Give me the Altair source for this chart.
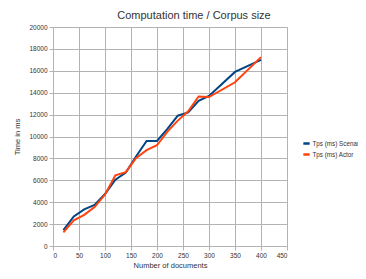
import altair as alt
import pandas as pd

docs = [20, 40, 60, 80, 100, 120, 140, 160, 180, 200, 220, 240, 260, 280, 300, 350, 400]
scenar = [1450, 2700, 3350, 3750, 4750, 6050, 6700, 8200, 9600, 9600, 10700, 11900, 12200, 13250, 13700, 15900, 17000]
actor = [1250, 2350, 2850, 3550, 4700, 6450, 6750, 8050, 8750, 9200, 10450, 11450, 12300, 13650, 13600, 14950, 17250]
series_names = ["Tps (ms) Scenar", "Tps (ms) Actor"]
colors = ["#004586", "#ff420e"]
x_ticks = list(range(0, 451, 50))
y_ticks = list(range(0, 20001, 2000))

rows = []
for name, vals in zip(series_names, [scenar, actor]):
    for d, v in zip(docs, vals):
        rows.append({"docs": d, "time": v, "series": name})
df = pd.DataFrame(rows)

FONT = "Liberation Sans"
GRID = "#b3b3b3"

lines = alt.Chart(df).mark_line(strokeWidth=2).encode(
    x=alt.X("docs:Q", scale=alt.Scale(domain=[0, 450], nice=False),
            axis=alt.Axis(values=x_ticks, title="Number of documents", grid=True, format="d",
                          gridColor=GRID, domainColor=GRID, tickColor=GRID,
                          tickSize=4, labelFontSize=6.5, labelColor="#333333",
                          labelFont=FONT, titleFont=FONT, titleFontSize=7.5,
                          titleFontWeight="normal", titleColor="#333333",
                          titlePadding=3, labelPadding=2)),
    y=alt.Y("time:Q", scale=alt.Scale(domain=[0, 20000], nice=False),
            axis=alt.Axis(values=y_ticks, title="Time in ms", grid=True, format="d",
                          gridColor=GRID, domainColor=GRID, tickColor=GRID,
                          tickSize=4, labelFontSize=6.5, labelColor="#333333",
                          labelFont=FONT, titleFont=FONT, titleFontSize=7.5,
                          titleFontWeight="normal", titleColor="#333333",
                          titlePadding=7, labelPadding=2)),
    color=alt.Color("series:N", sort=series_names,
                    scale=alt.Scale(domain=series_names, range=colors),
                    legend=alt.Legend(title=None, orient="none", legendX=249, legendY=112,
                                      symbolType="stroke", symbolSize=40, symbolStrokeWidth=2.5,
                                      labelFontSize=6.3, labelFont=FONT, labelColor="#333333",
                                      rowPadding=0, labelOffset=1.5, symbolOffset=0)),
)

chart = lines.properties(
    width=234, height=219,
    title=alt.Title("Computation time / Corpus size", fontSize=11, font=FONT,
                    fontWeight="normal", color="#333333", anchor="middle", dx=24, offset=3),
    padding={"left": 45, "top": 19, "right": 71, "bottom": 25},
    autosize=alt.AutoSizeParams(type="none"),
).configure_view(stroke=GRID).configure(background="white")

chart.save("out.html", embed_options={"renderer": "svg", "actions": False})
